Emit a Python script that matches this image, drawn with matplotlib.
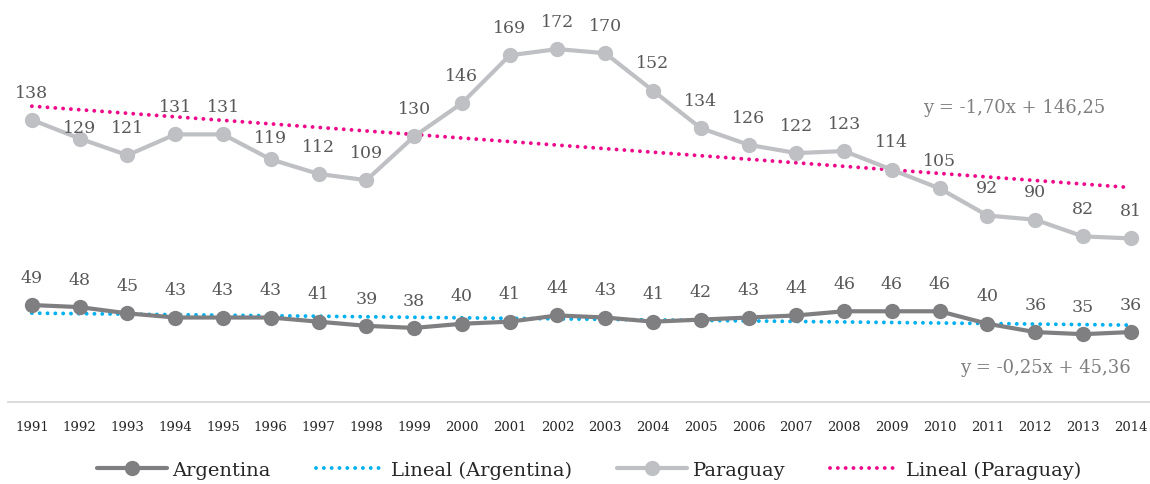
import matplotlib
matplotlib.use("Agg")
import matplotlib.pyplot as plt
from matplotlib.lines import Line2D
import numpy as np

years = [str(y) for y in range(1991, 2015)]
argentina = [49, 48, 45, 43, 43, 43, 41, 39, 38, 40, 41, 44, 43, 41, 42, 43, 44, 46, 46, 46, 40, 36, 35, 36]
paraguay = [138, 129, 121, 131, 131, 119, 112, 109, 130, 146, 169, 172, 170, 152, 134, 126, 122, 123, 114, 105, 92, 90, 82, 81]
trend_arg = (-0.25, 45.36)
trend_par = (-1.70, 146.25)
eq_arg = "y = -0,25x + 45,36"
eq_par = "y = -1,70x + 146,25"

FONT = "DejaVu Serif"
plt.rcParams['font.family'] = [FONT]

C_ARG = "#7f7f81"
C_PAR = "#bfc0c3"
C_PINK = "#ee0a8a"
C_BLUE = "#00b0f0"
C_LBL = "#595959"
C_EQ = "#7f7f7f"

W, H = 1150, 485
fig = plt.figure(figsize=(W / 100, H / 100), dpi=100)
left_px, right_px = 8, 1150
ax = fig.add_axes([left_px / W, (H - 403) / H, (right_px - left_px) / W, 403 / H])
spacing = 47.78
scale = 2.081
ax.set_xlim(-0.5, -0.5 + (right_px - left_px) / spacing)
ybot = 5 / scale
ax.set_ylim(ybot, ybot + 403 / scale)

x = np.arange(len(years))
xt = x + 1

dot = dict(linestyle=(0, (0.01, 2.0)), dash_capstyle='round', linewidth=2.8)
ax.plot(x, trend_arg[0] * xt + trend_arg[1], color=C_BLUE, zorder=2, **dot)
ax.plot(x, trend_par[0] * xt + trend_par[1], color=C_PINK, zorder=2, **dot)
ax.plot(x, argentina, color=C_ARG, lw=3, marker='o', ms=10, zorder=3, solid_capstyle='round')
ax.plot(x, paraguay, color=C_PAR, lw=3, marker='o', ms=10, zorder=3, solid_capstyle='round')

par_off = [20] * len(paraguay)
par_off[1] = 8
par_off[5] = 16
for i, v in enumerate(paraguay):
    ax.annotate(str(v), (x[i], v), xytext=(0, par_off[i]), textcoords='offset points',
                ha='center', va='center', fontsize=12.5, color=C_LBL)
for i, v in enumerate(argentina):
    ax.annotate(str(v), (x[i], v), xytext=(0, 20), textcoords='offset points',
                ha='center', va='center', fontsize=12.5, color=C_LBL)

ax.text(20.55, 144.2, eq_par, ha='center', va='center', fontsize=13, color=C_EQ)
ax.text(21.22, 19.2, eq_arg, ha='center', va='center', fontsize=13, color=C_EQ)

for s in ['left', 'right', 'top']:
    ax.spines[s].set_visible(False)
ax.spines['bottom'].set_color('#d9d9d9')
ax.spines['bottom'].set_linewidth(1.3)
ax.set_yticks([])
ax.set_xticks(x)
ax.set_xticklabels(years, fontsize=9.5, color='#262626')
ax.tick_params(axis='x', length=0, pad=13)

handles = [
    Line2D([], [], color=C_ARG, lw=3, marker='o', ms=10, solid_capstyle='round'),
    Line2D([], [], color=C_BLUE, **dot),
    Line2D([], [], color=C_PAR, lw=3, marker='o', ms=10, solid_capstyle='round'),
    Line2D([], [], color=C_PINK, **dot),
]
labels = ["Argentina", "Lineal (Argentina)", "Paraguay", "Lineal (Paraguay)"]
fig.legend(handles, labels, loc='center', bbox_to_anchor=(589 / W, (H - 471) / H), ncol=4,
           frameon=False, fontsize=14, handlelength=3.6, columnspacing=2.3, handletextpad=0.3,
           labelcolor='#262626')

fig.savefig("out.png", dpi=100)
